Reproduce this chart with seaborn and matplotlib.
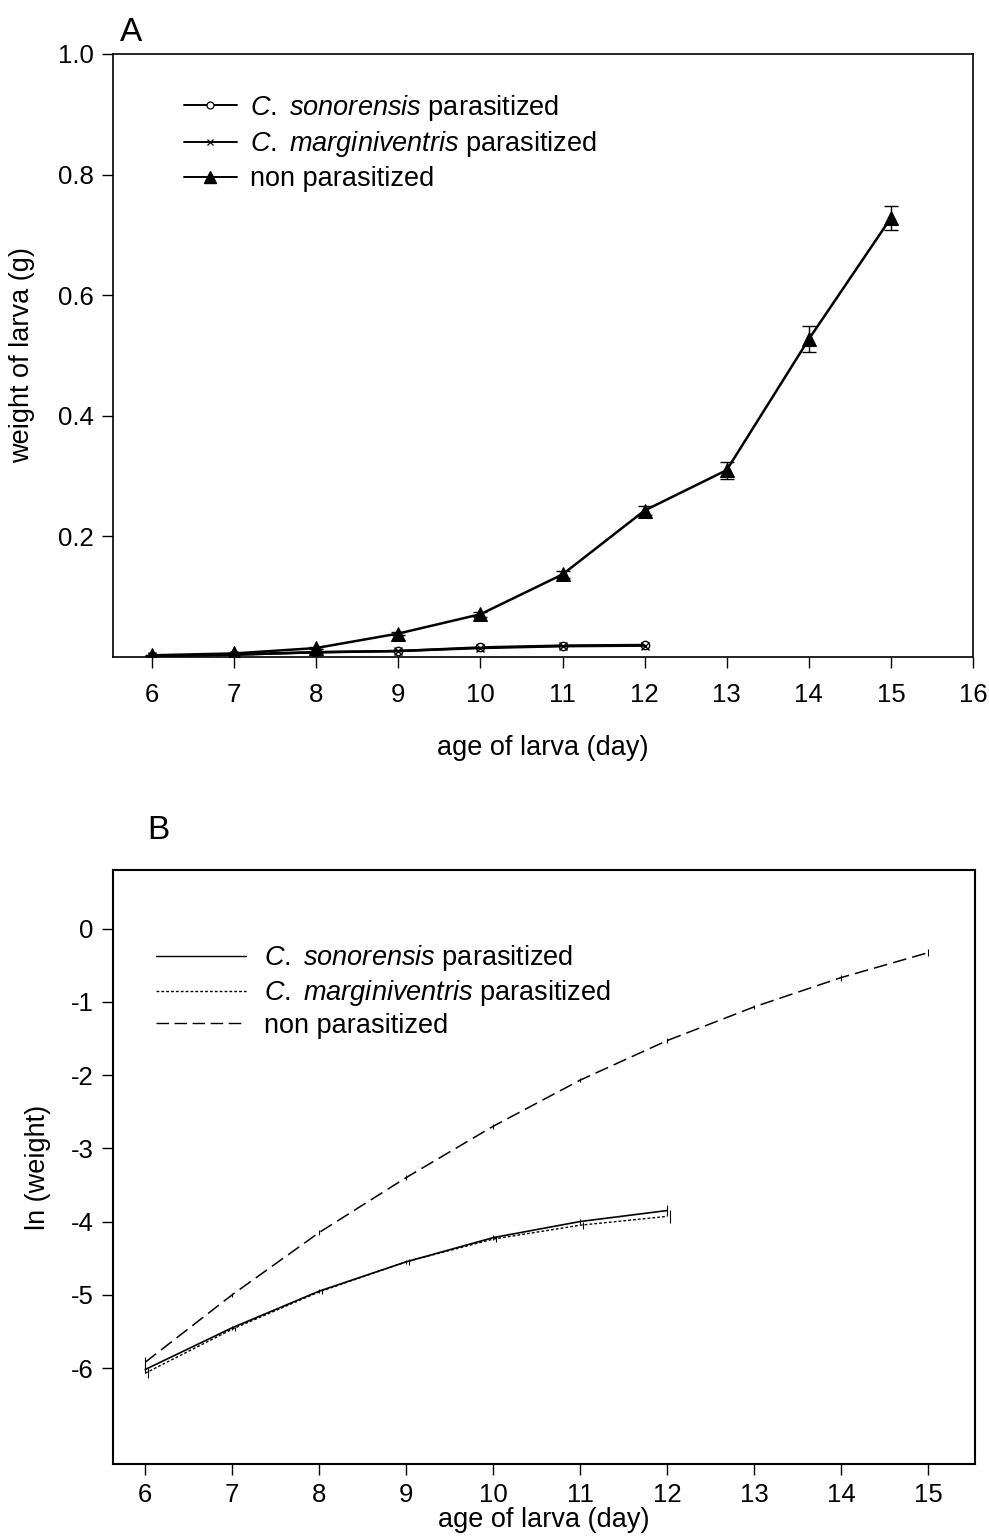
import numpy as np
import pandas as pd
import matplotlib
matplotlib.use("Agg")
import matplotlib.pyplot as plt
import seaborn as sns
from matplotlib.lines import Line2D

sns.set_style("ticks")
plt.rcParams['font.family'] = ['Liberation Sans', 'DejaVu Sans']
plt.rcParams['axes.unicode_minus'] = False
plt.rcParams['text.color'] = 'black'
plt.rcParams['axes.labelcolor'] = 'black'
plt.rcParams['xtick.color'] = 'black'
plt.rcParams['ytick.color'] = 'black'
plt.rcParams['mathtext.fontset'] = 'custom'
plt.rcParams['mathtext.it'] = 'Liberation Sans:italic'
plt.rcParams['mathtext.rm'] = 'Liberation Sans'

# ---------------- data ----------------
days_par = [6, 7, 8, 9, 10, 11, 12]
days_non = [6, 7, 8, 9, 10, 11, 12, 13, 14, 15]

# Panel A: weight of larva (g)
w_sonorensis = [0.002, 0.004, 0.008, 0.010, 0.016, 0.019, 0.020]
w_marginiventris = [0.002, 0.004, 0.008, 0.010, 0.015, 0.018, 0.019]
w_non = [0.003, 0.006, 0.015, 0.039, 0.071, 0.137, 0.243, 0.310, 0.527, 0.728]
w_non_err = [0.001, 0.001, 0.002, 0.003, 0.004, 0.006, 0.007, 0.014, 0.022, 0.020]

# Panel B: ln(weight)
ln_sonorensis = [-6.02, -5.45, -4.95, -4.55, -4.22, -4.00, -3.85]
ln_marginiventris = [-6.07, -5.47, -4.96, -4.55, -4.24, -4.05, -3.93]
ln_non = [-5.92, -5.00, -4.15, -3.40, -2.70, -2.07, -1.53, -1.07, -0.67, -0.33]
ln_son_err = [0.05, 0.03, 0.03, 0.03, 0.03, 0.04, 0.07]
ln_mar_err = [0.07, 0.03, 0.03, 0.04, 0.04, 0.05, 0.09]
ln_non_err = [0.07, 0.03, 0.03, 0.03, 0.03, 0.03, 0.03, 0.03, 0.04, 0.05]

labels = [r"$\mathit{C.}$ $\mathit{sonorensis}$ parasitized",
          r"$\mathit{C.}$ $\mathit{marginiventris}$ parasitized",
          "non parasitized"]

FS = 18.5

fig = plt.figure(figsize=(9.89, 15.37), dpi=100)

# ---------------- Panel A ----------------
axA = fig.add_axes([0.1143, 0.5725, 0.9838 - 0.1143, 0.9649 - 0.5725])
sns.lineplot(x=days_par, y=w_sonorensis, ax=axA, color="black", lw=1.8,
             marker="o", markersize=6, markerfacecolor="white",
             markeredgecolor="black", markeredgewidth=1.0)
sns.lineplot(x=days_par, y=w_marginiventris, ax=axA, color="black", lw=1.8,
             marker="x", markersize=6, markeredgecolor="black", markeredgewidth=1.0)
axA.errorbar(days_non, w_non, yerr=w_non_err, fmt="none", ecolor="black",
             elinewidth=1.0, capsize=5, capthick=1.0, zorder=3)
sns.lineplot(x=days_non, y=w_non, ax=axA, color="black", lw=1.8,
             marker="^", markersize=10.5, markerfacecolor="black",
             markeredgecolor="black")

axA.set_xlim(5.525, 16.0)
axA.set_ylim(0, 1.0)
axA.set_xticks(range(6, 17))
axA.set_yticks([0.2, 0.4, 0.6, 0.8, 1.0])
axA.set_yticklabels(["0.2", "0.4", "0.6", "0.8", "1.0"])
axA.tick_params(direction="out", length=8, width=1.0, labelsize=FS, pad=6)
axA.tick_params(axis="x", pad=11)
for s in axA.spines.values():
    s.set_visible(True)
    s.set_linewidth(1.2)
    s.set_color("black")
axA.set_xlabel("age of larva (day)", fontsize=FS + 1, labelpad=20)
axA.set_ylabel("weight of larva (g)", fontsize=FS + 1, labelpad=16)
axA.text(0.008, 1.01, "A", transform=axA.transAxes, fontsize=24, ha="left", va="bottom")

hA = [Line2D([], [], color="black", lw=1.4, marker="o", markersize=5,
             markerfacecolor="white", markeredgewidth=0.9),
      Line2D([], [], color="black", lw=1.4, marker="x", markersize=5, markeredgewidth=0.9),
      Line2D([], [], color="black", lw=1.4, marker="^", markersize=9)]
axA.legend(hA, labels, loc="upper left", bbox_to_anchor=(0.07, 0.954), frameon=False,
           fontsize=FS + 1, handlelength=1.95, handletextpad=0.5, labelspacing=0.25,
           borderaxespad=0)

# ---------------- Panel B ----------------
axB = fig.add_axes([0.1143, 0.0475, 0.9858 - 0.1143, 0.434 - 0.0475])
sns.lineplot(x=days_par, y=ln_sonorensis, ax=axB, color="black", lw=1.2, linestyle="-")
sns.lineplot(x=days_par, y=ln_marginiventris, ax=axB, color="black", lw=1.0,
             linestyle=(0, (2, 1.5)))
sns.lineplot(x=days_non, y=ln_non, ax=axB, color="black", lw=1.1, linestyle=(0, (9, 4)))
axB.errorbar(days_par, ln_sonorensis, yerr=ln_son_err, fmt="none", ecolor="black",
             elinewidth=0.8, capsize=0)
axB.errorbar([d + 0.03 for d in days_par], ln_marginiventris, yerr=ln_mar_err, fmt="none",
             ecolor="black", elinewidth=0.8, capsize=0)
axB.errorbar(days_non, ln_non, yerr=ln_non_err, fmt="none", ecolor="black",
             elinewidth=0.8, capsize=0)

axB.set_xlim(5.63, 15.54)
axB.set_ylim(-7.31, 0.8)
axB.set_xticks(range(6, 16))
axB.set_yticks([0, -1, -2, -3, -4, -5, -6])
axB.set_yticklabels(["0", "-1", "-2", "-3", "-4", "-5", "-6"])
axB.tick_params(direction="out", length=8, width=1.0, labelsize=FS, pad=6)
axB.tick_params(axis="x", pad=6)
for s in axB.spines.values():
    s.set_visible(True)
    s.set_linewidth(1.5)
    s.set_color("black")
axB.set_xlabel("age of larva (day)", fontsize=FS + 1, labelpad=0)
axB.set_ylabel("ln (weight)", fontsize=FS + 1, labelpad=14)
axB.text(0.04, 1.04, "B", transform=axB.transAxes, fontsize=24, ha="left", va="bottom")

hB = [Line2D([], [], color="black", lw=1.0, linestyle="-"),
      Line2D([], [], color="black", lw=1.0, linestyle=(0, (2, 1.5))),
      Line2D([], [], color="black", lw=1.0, linestyle=(0, (9, 4)))]
axB.legend(hB, labels, loc="upper left", bbox_to_anchor=(0.037, 0.895), frameon=False,
           fontsize=FS + 1, handlelength=3.35, handletextpad=0.65, labelspacing=0.18,
           borderaxespad=0)

fig.savefig("out.png", dpi=100)
